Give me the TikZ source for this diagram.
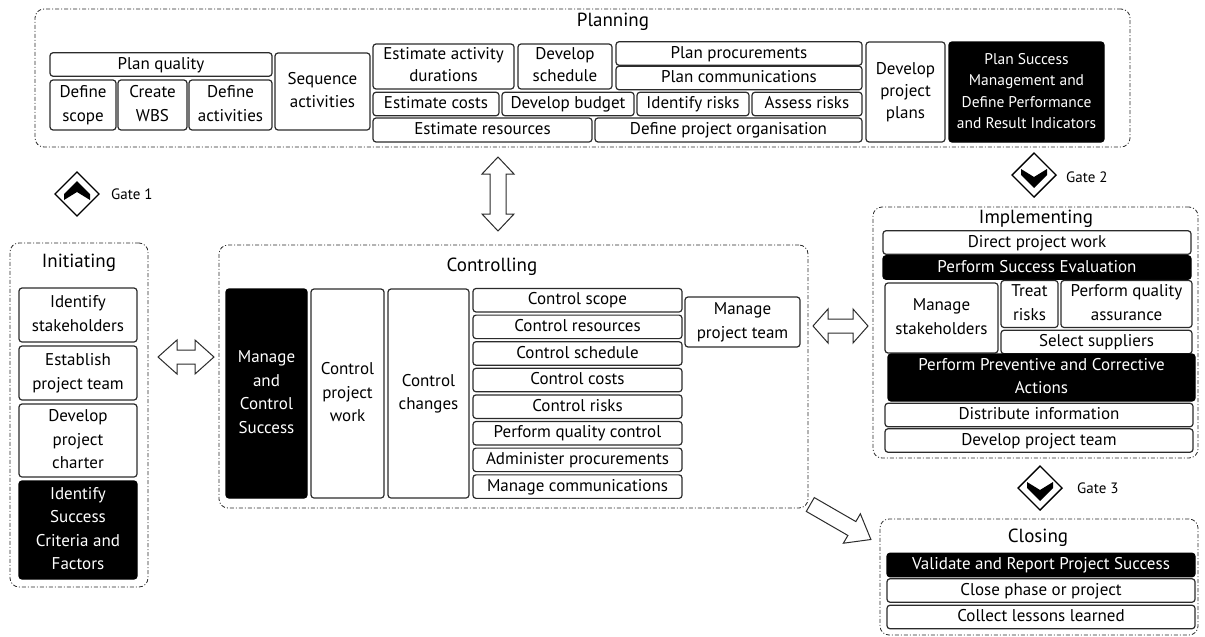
\documentclass[tikz,border=0pt]{standalone}
\usepackage{fontspec}
\setmainfont{PT Sans}
\usetikzlibrary{calc}
\definecolor{edge}{HTML}{2B2B2B}
\tikzset{
  box/.style={draw=edge, line width=1.2pt, rounded corners=3pt, inner sep=0pt,
    font=\fontsize{17}{23.5}\selectfont, text=black},
  tight/.style={font=\fontsize{17}{22}\selectfont},
  small/.style={font=\fontsize{15.5}{21.5}\selectfont},
  darkbox/.style={box, fill=black, draw=black, text=white},
  phase/.style={draw=edge, line width=0.8pt, rounded corners=9pt,
    dash pattern=on 4pt off 2pt on 1pt off 2pt, inner sep=0pt},
  title/.style={font=\fontsize{19}{21}\selectfont, inner sep=0pt},
  gatelabel/.style={font=\fontsize{15}{17}\selectfont, inner sep=0pt, anchor=west},
  barrow/.style={draw=edge, line width=1pt, fill=white, line join=miter},
  gatedown/.pic={
    \draw[line width=1.4pt, line join=miter] (0,-22)--(22,0)--(0,22)--(-22,0)--cycle;
    \fill (-13,-6)--(0,2)--(13,-6)--(13,0)--(0,13)--(-13,0)--cycle;},
  gateup/.pic={
    \draw[line width=1.4pt, line join=miter] (0,-22)--(22,0)--(0,22)--(-22,0)--cycle;
    \fill (-13,6)--(0,-2)--(13,6)--(13,0)--(0,-13)--(-13,0)--cycle;},
}
% box: style, name, x1, y1, x2, y2, text (lines separated by \\)
\newcommand\bx[7]{\node[#1, minimum width={#5-#3}, minimum height={#6-#4}]
  (#2) at ({(#3+#5)/2},{(#4+#6)/2}) {\begin{tabular}{@{}c@{}}#7\end{tabular}};}
% empty area: style, name, x1, y1, x2, y2
\newcommand\area[6]{\node[#1, minimum width={#5-#3}, minimum height={#6-#4}]
  (#2) at ({(#3+#5)/2},{(#4+#6)/2}) {};}
% double block arrow: cx, cy, length, head length, half shaft, half head, rotation
\newcommand\dblarr[7]{%
  \begin{scope}[shift={(#1,#2)}, rotate=#7]
    \draw[barrow] ({-#3/2},0) -- ({-#3/2+#4},{-#6}) -- ({-#3/2+#4},{-#5})
      -- ({#3/2-#4},{-#5}) -- ({#3/2-#4},{-#6}) -- ({#3/2},0)
      -- ({#3/2-#4},{#6}) -- ({#3/2-#4},{#5}) -- ({-#3/2+#4},{#5})
      -- ({-#3/2+#4},{#6}) -- cycle;
  \end{scope}}
% single block arrow: cx, cy, length, head length, half shaft, half head, rotation
\newcommand\sglarr[7]{%
  \begin{scope}[shift={(#1,#2)}, rotate=#7]
    \draw[barrow] ({-#3/2},{-#5}) -- ({#3/2-#4},{-#5}) -- ({#3/2-#4},{-#6})
      -- ({#3/2},0) -- ({#3/2-#4},{#6}) -- ({#3/2-#4},{#5}) -- ({-#3/2},{#5}) -- cycle;
  \end{scope}}

\begin{document}
\begin{tikzpicture}[x=1pt, y=-1pt]
\useasboundingbox (0,0) rectangle (1205,637);

% ---------- Planning ----------
\area{phase}{planning}{35}{9}{1130}{147}
\node[title] (planningt) at (613,22) {Planning};
\bx{box}{pq}{50}{53}{272}{76}{Plan quality}
\bx{box}{dsc}{50}{80}{116}{130}{Define\\scope}
\bx{box}{wbs}{118}{80}{187}{130}{Create\\WBS}
\bx{box}{dac}{189}{80}{272}{130}{Define\\activities}
\bx{box}{seq}{275}{53}{370}{130}{Sequence\\activities}
\bx{box,tight}{ead}{373}{44}{514}{89}{Estimate activity\\durations}
\bx{box,tight}{dsch}{518}{44}{612}{89}{Develop\\schedule}
\bx{box}{ppr}{616}{43}{862}{64}{Plan procurements}
\bx{box}{pcm}{616}{67}{862}{89}{Plan communications}
\bx{box}{ecs}{373}{93}{499}{115}{Estimate costs}
\bx{box}{dbu}{502}{93}{634}{115}{Develop budget}
\bx{box}{irk}{637}{93}{749}{115}{Identify risks}
\bx{box}{ark}{752}{93}{862}{115}{Assess risks}
\bx{box}{ers}{373}{118}{592}{142}{Estimate resources}
\bx{box}{dpo}{595}{118}{862}{142}{Define project organisation}
\bx{box,tight}{dpp}{866}{42}{945}{142}{Develop\\project\\plans}
\bx{darkbox,small}{psm}{949}{42}{1104}{142}{Plan Success\\Management and\\Define Performance\\and Result Indicators}

% ---------- Initiating ----------
\area{phase}{initiating}{10}{243}{148}{587}
\node[title] (initiatingt) at (79,263) {Initiating};
\bx{box}{ids}{19}{288}{137}{342}{Identify\\stakeholders}
\bx{box}{ept}{19}{346}{137}{400}{Establish\\project team}
\bx{box}{dpc}{19}{404}{137}{477}{Develop\\project\\charter}
\bx{darkbox}{isc}{19}{481}{137}{579}{Identify\\Success\\Criteria and\\Factors}

% ---------- Controlling ----------
\area{phase}{controlling}{219}{245}{808}{508}
\node[title] (controllingt) at (492,267) {Controlling};
\bx{darkbox}{mcs}{226}{289}{307}{498}{Manage\\and\\Control\\Success}
\bx{box}{cpw}{311}{289}{384}{498}{Control\\project\\work}
\bx{box}{cch}{388}{289}{469}{498}{Control\\changes}
\bx{box}{csc}{473}{289}{682}{311.5}{Control scope}
\bx{box}{cre}{473}{315.6}{682}{338.1}{Control resources}
\bx{box}{csh}{473}{342.2}{682}{364.7}{Control schedule}
\bx{box}{cco}{473}{368.8}{682}{391.3}{Control costs}
\bx{box}{cri}{473}{395.4}{682}{417.9}{Control risks}
\bx{box}{pqc}{473}{422}{682}{444.5}{Perform quality control}
\bx{box}{apr}{473}{448.6}{682}{471.1}{Administer procurements}
\bx{box}{mco}{473}{475.2}{682}{498}{Manage communications}
\bx{box}{mpt}{685}{297}{800}{347}{Manage\\project team}

% ---------- Implementing ----------
\area{phase}{implementing}{873}{207}{1198}{458}
\node[title] (implementingt) at (1036,219) {Implementing};
\bx{box}{dpw}{883}{232}{1191}{253}{Direct project work}
\bx{darkbox}{pse}{883}{257}{1191}{278}{Perform Success Evaluation}
\bx{box}{msh}{885}{283}{998}{353}{Manage\\stakeholders}
\bx{box}{trk}{1001}{281}{1058}{327}{Treat\\risks}
\bx{box}{pqa}{1061}{281}{1192}{327}{Perform quality\\assurance}
\bx{box}{ssu}{1001}{331}{1192}{353}{Select suppliers}
\bx{darkbox}{ppc}{888}{356}{1195}{399}{Perform Preventive and Corrective\\Actions}
\bx{box}{dinf}{885}{404}{1193}{426}{Distribute information}
\bx{box}{dptm}{885}{429}{1193}{452}{Develop project team}

% ---------- Closing ----------
\area{phase}{closing}{880}{519}{1198}{635}
\node[title] (closingt) at (1038,538) {Closing};
\bx{darkbox}{vrp}{887}{554}{1195}{576}{Validate and Report Project Success}
\bx{box}{cpp}{887}{579}{1195}{602}{Close phase or project}
\bx{box}{cll}{887}{606}{1195}{628}{Collect lessons learned}

% ---------- Gates ----------
\pic at (77,194) {gateup};
\node[gatelabel] (g1) at (111,194) {Gate 1};
\pic at (1034,175) {gatedown};
\node[gatelabel] (g2) at (1066,177) {Gate 2};
\pic at (1040,488) {gatedown};
\node[gatelabel] (g3) at (1077,488) {Gate 3};

% ---------- Block arrows between phases ----------
\dblarr{498}{194}{74}{17}{8}{16}{90}
\dblarr{186}{357}{56}{19}{7}{17}{0}
\dblarr{840.5}{326}{55}{15}{7}{17}{0}
\sglarr{840.6}{522}{70}{22}{8}{17}{-30}
\end{tikzpicture}
\end{document}
